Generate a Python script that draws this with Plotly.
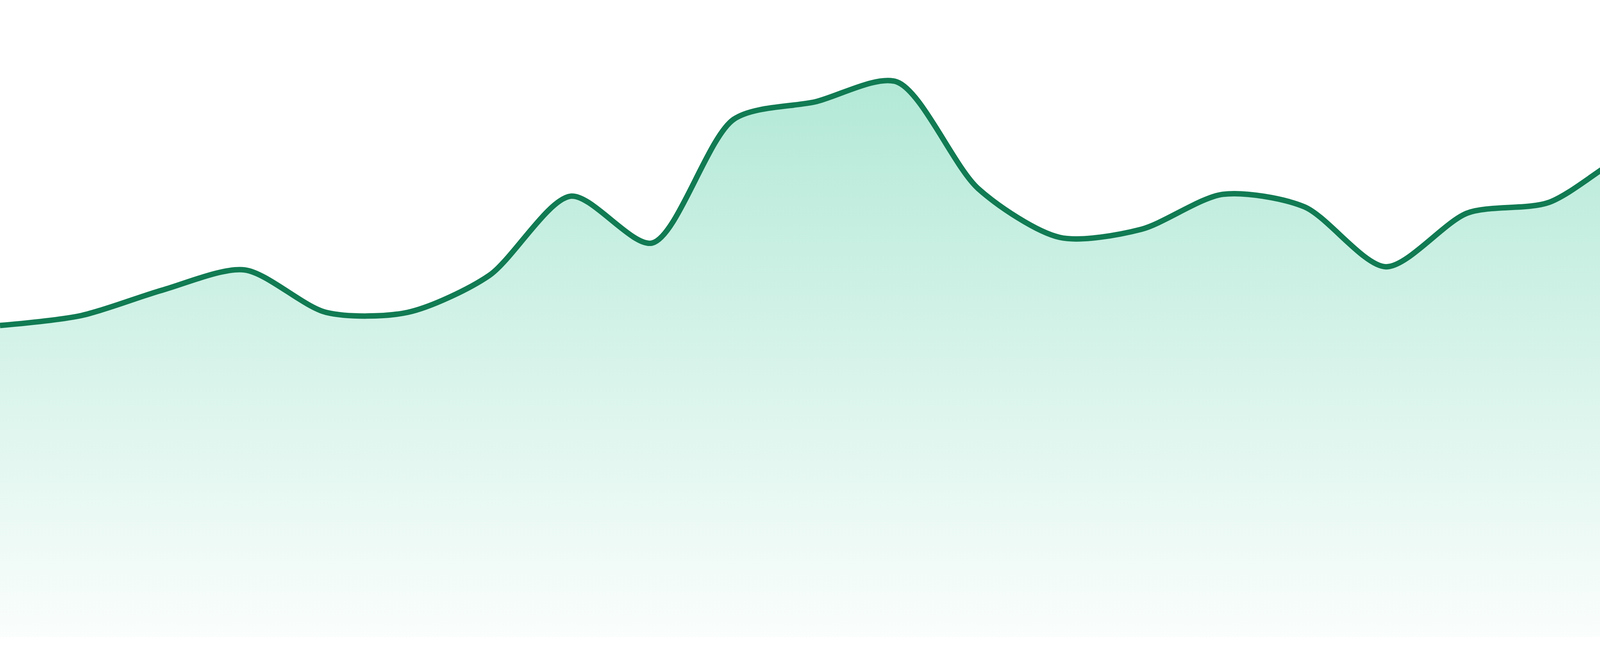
import plotly.graph_objects as go

# daily values (no axes are shown on it)
days = [1, 2, 3, 4, 5, 6, 7, 8, 9, 10, 11, 12,
        13, 14, 15, 16, 17, 18, 19, 20, 21, 22, 23, 24]
values = [49.9, 51.5, 55.6, 58.8, 52.0, 52.0, 57.9, 70.6, 63.1, 82.9, 85.7, 88.9,
          71.8, 64.0, 65.3, 70.9, 68.9, 59.3, 67.9, 69.6, 77.6, 80.7, 80.7, 89.4]

line_color = "#117b53"

fig = go.Figure()

fig.add_trace(go.Scatter(
    x=days,
    y=values,
    mode="lines",
    line=dict(color=line_color, width=14, shape="spline", smoothing=0.8),
    fill="tozeroy",
    fillgradient=dict(
        type="vertical",
        colorscale=[[0, "rgba(16,185,129,0.02)"], [1, "rgba(16,185,129,0.32)"]],
    ),
    hoverinfo="skip",
    showlegend=False,
))

fig.update_layout(
    width=4800,
    height=1680,
    margin=dict(l=0, r=0, t=0, b=48),
    paper_bgcolor="white",
    plot_bgcolor="white",
    xaxis=dict(range=[1, 24], visible=False, fixedrange=True),
    yaxis=dict(range=[0, 102], visible=False, fixedrange=True),
)

# drop the default page margin so the chart sits flush at the corner
fig.write_html("out.html", post_script="document.body.style.margin='0';")
